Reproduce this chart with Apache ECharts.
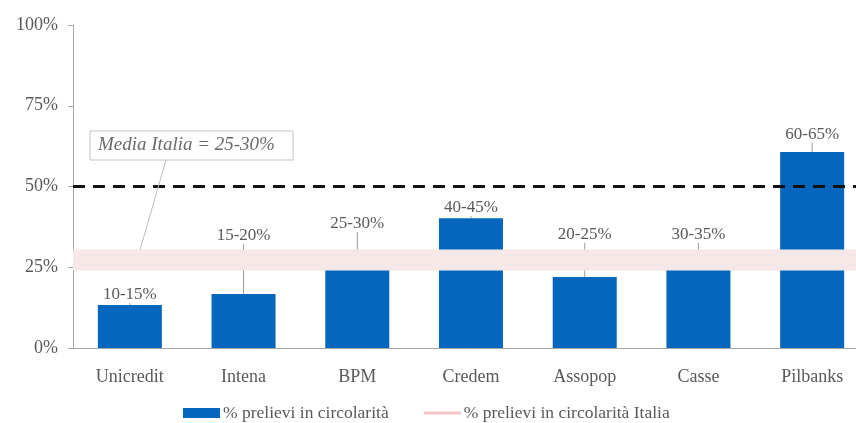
<!DOCTYPE html>
<html>
<head>
<meta charset="utf-8">
<script src="https://cdn.jsdelivr.net/npm/echarts@6/dist/echarts.min.js"></script>
<style>html,body{margin:0;padding:0;background:#fff}#c{width:856px;height:423px}</style>
</head>
<body>
<div id="c"></div>
<script>
// ---- data ----
const categories = ['Unicredit', 'Intena', 'BPM', 'Credem', 'Assopop', 'Casse', 'Pilbanks'];
const barValues = [13.3, 16.7, 26, 40.2, 22, 27, 60.7];
const rangeLabels = ['10-15%', '15-20%', '25-30%', '40-45%', '20-25%', '30-35%', '60-65%'];
const italyBand = [24, 30.5];
const thresholdLine = 50;
const seriesNames = ['% prelievi in circolarità', '% prelievi in circolarità Italia'];
const annotationText = 'Media Italia = 25-30%';

// ---- layout (not data) ----
const labelShift = [0, -48, -30, 0, -32, -16, -7];
const serif = '"Liberation Serif", "DejaVu Serif", serif';
const grey = '#595959';

const chart = echarts.init(document.getElementById('c'), null, {renderer: 'canvas'});
chart.setOption({
  animation: false,
  textStyle: {fontFamily: serif},
  grid: {left: 73, top: 25, bottom: 75, width: 796, containLabel: false, outerBoundsMode: 'none'},
  legend: {
    top: 404, left: 183, padding: 0, itemGap: 35, itemWidth: 37, itemHeight: 10,
    textStyle: {fontFamily: serif, fontSize: 17.5, color: grey, padding: [0, 0, 0, -2]},
    data: [
      {name: seriesNames[0], icon: 'rect'},
      {name: seriesNames[1], icon: 'path://M0,0 L40,0 L40,3 L0,3 Z', itemStyle: {color: '#f2c4c8'}}
    ]
  },
  xAxis: {
    type: 'category', data: categories, boundaryGap: true,
    axisLine: {lineStyle: {color: '#a6a6a6', width: 1}},
    axisTick: {show: false},
    axisLabel: {fontFamily: serif, fontSize: 18, color: grey, margin: 20}
  },
  yAxis: {
    type: 'value', min: 0, max: 100, interval: 25,
    axisLine: {show: true, lineStyle: {color: '#a6a6a6'}},
    axisTick: {show: true, inside: false, length: 5, lineStyle: {color: '#a6a6a6'}},
    splitLine: {show: false},
    axisLabel: {fontFamily: serif, fontSize: 18, color: grey, margin: 15, formatter: v => v + '%'}
  },
  series: [
    {
      name: seriesNames[0], type: 'bar', barWidth: 64, z: 2,
      itemStyle: {color: '#0466bd'},
      data: barValues,
      label: {
        show: true, position: 'top', distance: 2,
        fontFamily: serif, fontSize: 17, color: grey,
        formatter: p => rangeLabels[p.dataIndex]
      },
      labelLine: {show: true, lineStyle: {color: '#9a9a9a', width: 1}},
      labelLayout: p => ({dy: labelShift[p.dataIndex]})
    },
    {
      name: seriesNames[1], type: 'line', z: 5, data: [],
      itemStyle: {color: '#f2c4c8'}, symbol: 'none',
      markArea: {
        silent: true, z: 4,
        itemStyle: {color: '#f6e8e6'},
        data: [[{yAxis: italyBand[0]}, {yAxis: italyBand[1]}]]
      },
      markLine: {
        silent: true, symbol: 'none', z: 6,
        label: {show: false},
        lineStyle: {color: '#111', width: 3, type: [12, 8]},
        data: [{yAxis: thresholdLine}]
      }
    }
  ],
  graphic: [
    {type: 'line', z: 10, shape: {x1: 166, y1: 160, x2: 140, y2: 250}, style: {stroke: '#bdbdbd', lineWidth: 1}},
    {type: 'rect', z: 10, shape: {x: 90, y: 131, width: 203, height: 29}, style: {fill: '#fff', stroke: '#c4c4c4', lineWidth: 1}},
    {type: 'text', z: 11, left: 98, top: 135, style: {text: annotationText, fontFamily: serif, fontStyle: 'italic', fontSize: 19, fill: '#6a6a6a'}}
  ]
});
</script>
</body>
</html>
